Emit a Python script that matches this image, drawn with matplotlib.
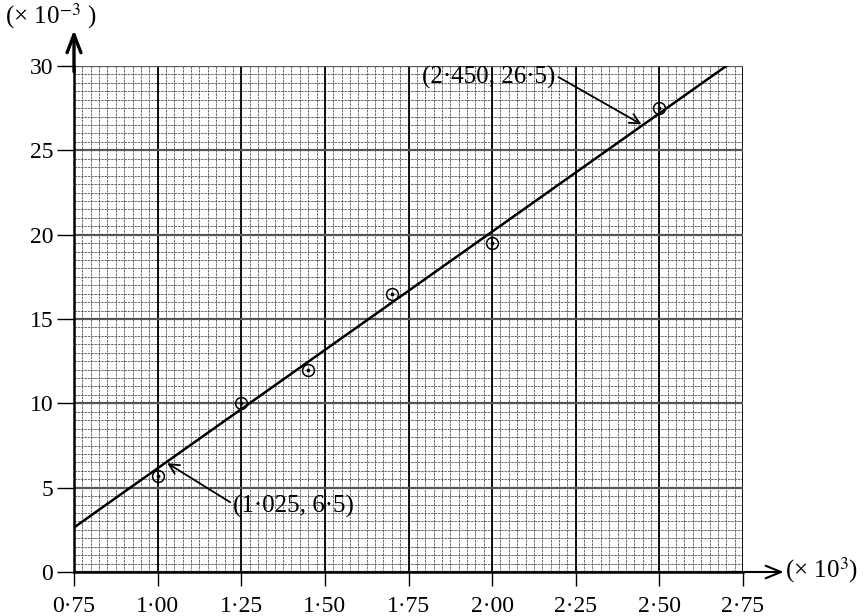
import numpy as np
import matplotlib.pyplot as plt

plt.rcParams['font.family'] = ['Liberation Serif', 'DejaVu Serif']
plt.rcParams['mathtext.fontset'] = 'stix'

# measured points (x in 10^3, y in 10^-3)
x_vals = [1.00, 1.25, 1.45, 1.70, 2.00, 2.50]
y_vals = [5.7, 10.0, 12.0, 16.5, 19.5, 27.5]

# best-fit line end points
fit_x = [0.75, 2.70]
fit_y = [2.64, 30.0]

# points for the gradient
pt_low = (1.025, 6.5)
pt_high = (2.450, 26.5)

x_ticks = [0.75, 1.00, 1.25, 1.50, 1.75, 2.00, 2.25, 2.50, 2.75]
y_ticks = [0, 5, 10, 15, 20, 25, 30]

fig = plt.figure(figsize=(8.67, 6.16), dpi=100)
ax = fig.add_axes([74 / 867, 44 / 616, 669 / 867, 506 / 616])
ax.set_xlim(0.75, 2.75)
ax.set_ylim(0, 30)

# graph paper
for xv in np.arange(0.75, 2.7501, 0.025):
    ax.axvline(xv, color='#555555', lw=0.6, ls=(0, (3, 1)), zorder=0)
for yv in np.arange(0, 30.01, 0.5):
    ax.axhline(yv, color='#555555', lw=0.6, ls=(0, (3, 1)), zorder=0)
for xv in x_ticks:
    ax.axvline(xv, color='black', lw=1.3, zorder=0)
for yv in y_ticks:
    ax.axhline(yv, color='#555555', lw=1.6, zorder=0)

for s in ['top', 'right']:
    ax.spines[s].set_visible(False)
ax.spines['left'].set_linewidth(1.8)
ax.spines['bottom'].set_linewidth(1.8)

ax.set_xticks(x_ticks)
ax.set_xticklabels([f'{v:.2f}'.replace('.', '·') for v in x_ticks])
ax.set_yticks(y_ticks)
ax.set_yticklabels([str(v) for v in y_ticks])
ax.tick_params(axis='x', length=10, width=1, pad=7, labelsize=17)
ax.tick_params(axis='y', length=12, width=1, pad=3, labelsize=17)

# axis arrows
ax.annotate('', xy=(0.75, 32.3), xytext=(0.75, 29.5), annotation_clip=False,
            arrowprops=dict(arrowstyle='->,head_length=1.3,head_width=0.5', lw=2.4, color='black'))
ax.annotate('', xy=(2.88, 0), xytext=(2.70, 0), annotation_clip=False,
            arrowprops=dict(arrowstyle='->,head_length=1.1,head_width=0.45', lw=1.5, color='black'))
fig.text(5 / 867, 1 - 16 / 616, '(× 10$^{-3}$ )', fontsize=18, va='center', ha='left')
fig.text(785 / 867, 1 - 570 / 616, '(× 10$^{3}$)', fontsize=18, va='center', ha='left')

# data and line
ax.plot(fit_x, fit_y, color='black', lw=1.8, zorder=3)
ax.plot(x_vals, y_vals, ls='none', marker='o', ms=8.5, mfc='none', mec='black', mew=1.1, zorder=4)
ax.plot(x_vals, y_vals, ls='none', marker='.', ms=3.5, color='black', zorder=4)

ax.annotate('(1·025, 6·5)', xy=pt_low, xytext=(1.225, 3.9), fontsize=18, va='center', ha='left',
            arrowprops=dict(arrowstyle='->', lw=1.3, color='black', shrinkA=0, shrinkB=1,
                            relpos=(0, 0.6)))
ax.annotate('(2·450, 26·5)', xy=pt_high, xytext=(2.19, 29.3), fontsize=18, va='center', ha='right',
            arrowprops=dict(arrowstyle='->', lw=1.3, color='black', shrinkA=0, shrinkB=1,
                            relpos=(1, 0.6)))

fig.savefig('out.png', dpi=100)
